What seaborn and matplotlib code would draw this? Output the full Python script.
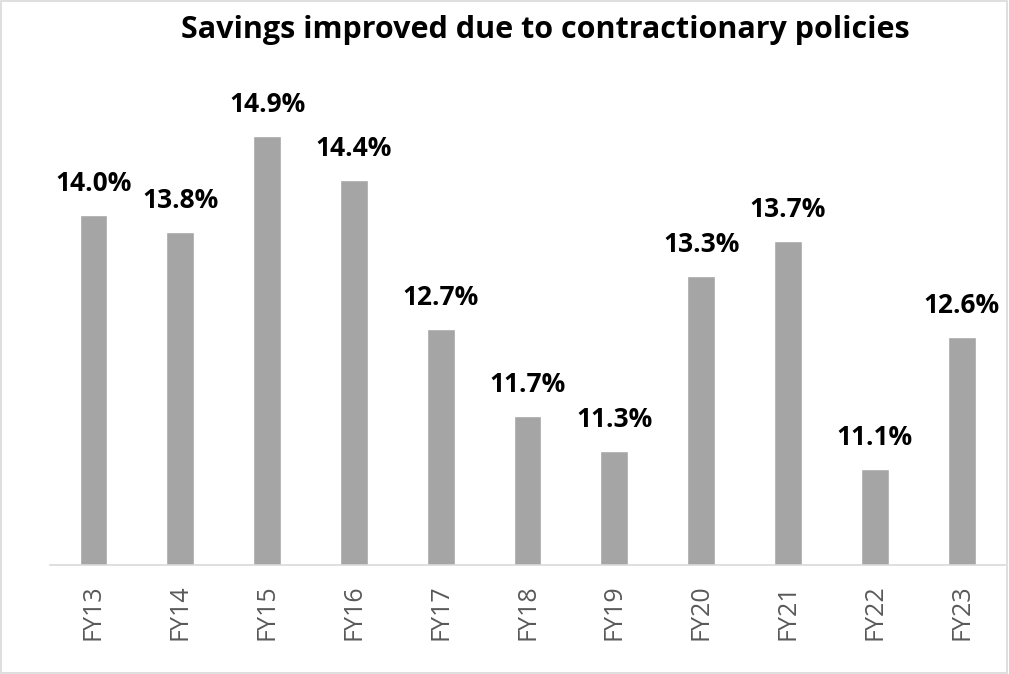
import pandas as pd
import matplotlib.pyplot as plt
import seaborn as sns
from matplotlib.patches import Rectangle

years = ["FY13", "FY14", "FY15", "FY16", "FY17", "FY18", "FY19", "FY20", "FY21", "FY22", "FY23"]
savings = [14.0, 13.8, 14.9, 14.4, 12.7, 11.7, 11.3, 13.3, 13.7, 11.1, 12.6]


def main():
    df = pd.DataFrame({"year": years, "savings": savings})

    sns.set_theme(style="white")
    plt.rcParams["font.family"] = ["Open Sans", "DejaVu Sans"]

    fig = plt.figure(figsize=(10.09, 6.74), dpi=100)
    ax = fig.add_axes([0.0496, 0.1617, 0.9465, 0.779])

    sns.barplot(data=df, x="year", y="savings", ax=ax, color="#a5a5a5",
                width=0.32, saturation=1)

    ax.set_ylim(10, 16)
    ax.set_xlim(-0.5, len(years) - 0.5)

    for i, v in enumerate(savings):
        ax.annotate(f"{v:.1f}%", (i, v), xytext=(0, 13), textcoords="offset points",
                    ha="center", va="bottom", fontsize=19, fontweight="bold", color="black")

    ax.set_xlabel("")
    ax.set_ylabel("")
    ax.set_yticks([])
    ax.tick_params(axis="x", labelrotation=90, labelsize=18, labelcolor="#595959",
                   length=0, pad=14)
    for s in ["left", "right", "top"]:
        ax.spines[s].set_visible(False)
    ax.spines["bottom"].set_color("#d9d9d9")
    ax.spines["bottom"].set_linewidth(1.2)

    fig.text(0.54, 0.955, "Savings improved due to contractionary policies",
             ha="center", va="center", fontsize=22, fontweight="bold", color="black")

    fig.patches.append(Rectangle((0.001, 0.001), 0.997, 0.997, transform=fig.transFigure,
                                 fill=False, edgecolor="#d9d9d9", linewidth=1.2))

    fig.savefig("out.png", dpi=100)


if __name__ == "__main__":
    main()
